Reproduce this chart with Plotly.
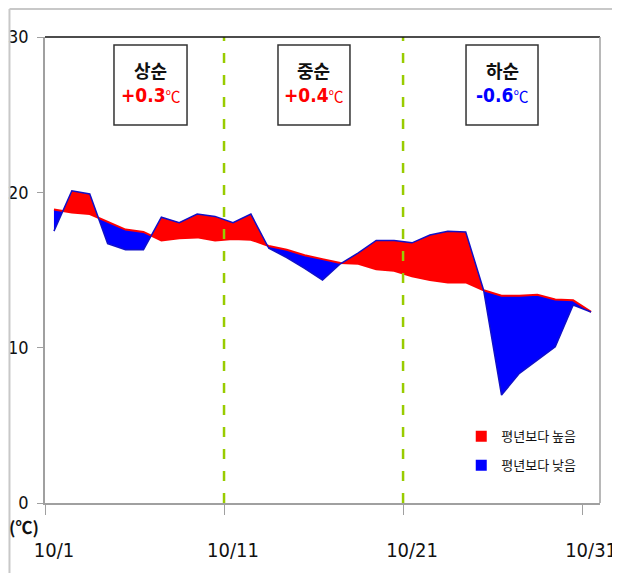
import numpy as np
import plotly.graph_objects as go

# ---- data ----
days = list(range(1, 32))
actual = [17.5, 20.1, 19.9, 16.7, 16.3, 16.3, 18.4, 18.05, 18.6, 18.45,
          18.05, 18.6, 16.4, 15.8, 15.1, 14.35, 15.4, 16.1, 16.9, 16.9,
          16.75, 17.25, 17.5, 17.45, 13.7, 6.95, 8.35, 9.2, 10.05, 12.75, 12.3]
normal = [18.9, 18.7, 18.6, 18.1, 17.6, 17.45, 16.9, 17.05, 17.1, 16.9,
          17.0, 16.95, 16.55, 16.3, 15.95, 15.7, 15.45, 15.4, 15.05, 14.95,
          14.6, 14.35, 14.2, 14.2, 13.7, 13.35, 13.35, 13.4, 13.1, 13.05, 12.3]
tick_labels = ["10/1", "10/11", "10/21", "10/31"]
tick_days = [1, 11, 21, 31]
period_names = ["상순", "중순", "하순"]
period_anoms = ["+0.3", "+0.4", "-0.6"]
legend_names = ["평년보다 높음", "평년보다 낮음"]

RED = "#ff0000"
BLUE = "#0000ff"
NARROW = "DejaVu Sans Condensed, Liberation Sans, Arial"
KR = "Noto Sans CJK KR"

# ---- insert crossing points so the fills split cleanly ----
xs, a_ext, n_ext = [], [], []
for i in range(len(days)):
    xs.append(days[i]); a_ext.append(actual[i]); n_ext.append(normal[i])
    if i < len(days) - 1:
        d0 = actual[i] - normal[i]
        d1 = actual[i + 1] - normal[i + 1]
        if d0 * d1 < 0:
            t = d0 / (d0 - d1)
            xc = days[i] + t * (days[i + 1] - days[i])
            yc = normal[i] + t * (normal[i + 1] - normal[i])
            xs.append(xc); a_ext.append(yc); n_ext.append(yc)
xs = np.array(xs); a_ext = np.array(a_ext); n_ext = np.array(n_ext)
upper = np.maximum(a_ext, n_ext)
lower = np.minimum(a_ext, n_ext)

fig = go.Figure()
# red area (above normal)
fig.add_trace(go.Scatter(x=xs, y=n_ext, mode="lines", line=dict(width=0),
                         showlegend=False, hoverinfo="skip"))
fig.add_trace(go.Scatter(x=xs, y=upper, mode="lines", line=dict(width=0),
                         fill="tonexty", fillcolor=RED, showlegend=False, hoverinfo="skip"))
# blue area (below normal)
fig.add_trace(go.Scatter(x=xs, y=n_ext, mode="lines", line=dict(width=0),
                         showlegend=False, hoverinfo="skip"))
fig.add_trace(go.Scatter(x=xs, y=lower, mode="lines", line=dict(width=0),
                         fill="tonexty", fillcolor=BLUE, showlegend=False, hoverinfo="skip"))
# outlines
fig.add_trace(go.Scatter(x=days, y=normal, mode="lines", line=dict(color=RED, width=2),
                         showlegend=False))
fig.add_trace(go.Scatter(x=days, y=actual, mode="lines", line=dict(color="#1010c8", width=1.5),
                         showlegend=False))
# legend entries
for name, col, grp in zip(legend_names, [RED, BLUE], ["g1", "g2"]):
    fig.add_trace(go.Scatter(x=[None], y=[None], mode="markers", name=name,
                             legendgroup=grp,
                             marker=dict(symbol="square", size=11, color=col)))

shapes = []
# dashed period separators
for xv in [10.5, 20.5]:
    shapes.append(dict(type="line", xref="x", yref="y", x0=xv, x1=xv, y0=0, y1=30,
                       line=dict(color="#99cc00", width=2.5, dash="10px,12px")))
# plot frame: dark top, grey right
shapes.append(dict(type="line", xref="paper", yref="paper", x0=0, x1=1, y0=1, y1=1,
                   line=dict(color="#111111", width=1.5)))
shapes.append(dict(type="line", xref="paper", yref="paper", x0=1, x1=1, y0=0, y1=1,
                   line=dict(color="#a0a0a0", width=1.5)))
# outer image frame (top and left)
shapes.append(dict(type="line", xref="paper", yref="paper", x0=-0.064, x1=1.04,
                   y0=1.06, y1=1.06, line=dict(color="#c8c8c8", width=2)))
shapes.append(dict(type="line", xref="paper", yref="paper", x0=-0.064, x1=-0.064,
                   y0=1.06, y1=-0.16, line=dict(color="#c8c8c8", width=2)))

# period boxes
box_x0 = [0.1243, 0.4198, 0.7586]
box_x1 = [0.2559, 0.5495, 0.8883]
for x0, x1 in zip(box_x0, box_x1):
    shapes.append(dict(type="rect", xref="paper", yref="paper", x0=x0, x1=x1,
                       y0=0.811, y1=0.983, line=dict(color="#333333", width=1.5),
                       fillcolor="white", layer="above"))

annotations = []
for name, anom, x0, x1 in zip(period_names, period_anoms, box_x0, box_x1):
    col = RED if anom.startswith("+") else BLUE
    cx = (x0 + x1) / 2
    annotations.append(dict(xref="paper", yref="paper", x=cx, y=0.930,
                            xanchor="center", yanchor="middle", text=f"<b>{name}</b>",
                            showarrow=False,
                            font=dict(family=KR, size=18, color="#111111")))
    txt = (f"<span style='font-family:{NARROW};font-size:19px'><b>{anom}</b></span>"
           f"<span style='font-family:{KR};font-size:15px'>℃</span>")
    annotations.append(dict(xref="paper", yref="paper", x=cx, y=0.8755,
                            xanchor="center", yanchor="middle", text=txt,
                            showarrow=False, font=dict(family=NARROW, size=19, color=col)))
annotations.append(dict(xref="paper", yref="paper", x=-0.038, y=-0.05,
                        xanchor="center", yanchor="middle", text="<b>(℃)</b>",
                        showarrow=False, font=dict(family=KR, size=17, color="#111111")))

fig.update_layout(
    width=620, height=573,
    margin=dict(l=37, r=28, t=29, b=78),
    plot_bgcolor="white", paper_bgcolor="white",
    shapes=shapes, annotations=annotations,
    showlegend=True,
    legend=dict(x=0.75, y=0.112, xanchor="left", yanchor="middle",
                font=dict(family=KR, size=13, color="#111111"),
                bgcolor="rgba(255,255,255,0)", tracegroupgap=9, itemwidth=30),
    xaxis=dict(range=[0.5, 31.5], tickmode="array",
               tickvals=[d - 0.5 for d in tick_days], ticktext=tick_labels,
               ticklabelshift=9, ticks="outside", ticklen=10, tickcolor="#a0a0a0",
               showline=True, linecolor="#a0a0a0", linewidth=1.5, showgrid=False,
               zeroline=False, ticklabelstandoff=18, automargin=False,
               tickfont=dict(family=NARROW, size=20, color="#111111")),
    yaxis=dict(range=[0, 30], tickmode="array", tickvals=[0, 10, 20, 30],
               ticks="outside", ticklen=6, tickcolor="#a0a0a0",
               showline=True, linecolor="#a0a0a0", linewidth=1.5, showgrid=False,
               zeroline=False, ticklabelstandoff=5, automargin=False,
               tickfont=dict(family=NARROW, size=18, color="#111111")),
)

fig.write_html("out.html")
